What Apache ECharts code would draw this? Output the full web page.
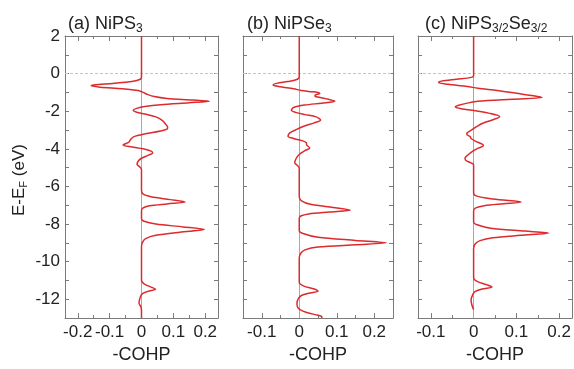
<!DOCTYPE html>
<html>
<head>
<meta charset="utf-8">
<script src="https://cdn.jsdelivr.net/npm/echarts@6/dist/echarts.min.js"></script>
<style>
html, body { margin: 0; padding: 0; background: #fff; }
#chart { width: 574px; height: 369px; }
</style>
</head>
<body>
<div id="chart"></div>
<script>
// energies (eV, relative to E_F) and -COHP values
const energyA = [2.0, -0.15, -0.3, -0.42, -0.52, -0.6, -0.65, -0.72, -0.8, -0.9, -1.0, -1.1, -1.22, -1.32, -1.4, -1.47, -1.55, -1.65, -1.75, -1.85, -1.95, -2.05, -2.15, -2.3, -2.5, -2.7, -2.85, -2.95, -3.05, -3.2, -3.35, -3.5, -3.65, -3.8, -3.9, -4.0, -4.12, -4.22, -4.35, -4.5, -4.65, -4.82, -4.95, -5.1, -6.2, -6.4, -6.55, -6.7, -6.83, -6.93, -7.03, -7.15, -7.3, -7.7, -7.85, -8.0, -8.15, -8.29, -8.43, -8.6, -8.77, -8.95, -9.2, -11.0, -11.2, -11.35, -11.47, -11.58, -11.7, -11.85, -12.2, -12.4, -12.6, -13.0];
const cohpA = [0, 0, -0.004, -0.03, -0.09, -0.15, -0.158, -0.13, -0.06, -0.01, 0.005, 0.018, 0.04, 0.08, 0.16, 0.213, 0.15, 0.06, 0.01, -0.015, -0.026, -0.015, 0.01, 0.045, 0.066, 0.076, 0.082, 0.08, 0.06, 0.012, -0.024, -0.034, -0.04, -0.058, -0.03, 0.005, 0.03, 0.035, 0.02, 0, -0.01, -0.014, -0.006, 0, 0, 0.004, 0.03, 0.09, 0.137, 0.08, 0.025, 0.004, 0, 0, 0.008, 0.045, 0.13, 0.197, 0.12, 0.045, 0.013, 0.004, 0, 0, 0.01, 0.03, 0.044, 0.02, 0.003, -0.003, -0.008, -0.002, 0, 0];

const energyB = [2.0, -0.15, -0.3, -0.42, -0.52, -0.61, -0.7, -0.8, -0.9, -0.95, -1.0, -1.06, -1.15, -1.22, -1.33, -1.47, -1.57, -1.67, -1.8, -1.95, -2.06, -2.18, -2.3, -2.47, -2.62, -2.8, -2.95, -3.15, -3.33, -3.45, -3.55, -3.67, -3.8, -3.95, -4.1, -4.3, -4.5, -4.74, -4.9, -5.05, -6.55, -6.75, -6.95, -7.12, -7.26, -7.36, -7.46, -7.57, -7.7, -8.35, -8.5, -8.7, -8.87, -9.0, -9.1, -9.22, -9.37, -9.55, -9.8, -11.1, -11.3, -11.45, -11.57, -11.68, -11.8, -11.95, -12.2, -12.4, -12.55, -12.7, -12.85, -12.92, -13.0];
const cohpB = [0, 0, -0.005, -0.03, -0.06, -0.07, -0.05, -0.015, 0.005, 0.025, 0.05, 0.055, 0.042, 0.043, 0.07, 0.095, 0.06, 0.015, -0.015, -0.021, -0.01, 0.015, 0.045, 0.057, 0.04, 0.012, -0.005, -0.025, -0.03, -0.015, 0.005, 0.019, 0.02, 0.028, 0.015, 0, -0.008, -0.012, -0.004, 0, 0, 0.005, 0.03, 0.09, 0.136, 0.08, 0.025, 0.004, 0, 0, 0.01, 0.05, 0.15, 0.232, 0.15, 0.05, 0.015, 0.004, 0, 0, 0.012, 0.04, 0.05, 0.025, 0.006, -0.002, -0.006, -0.005, 0.002, 0.02, 0.05, 0.06, 0.06];

const energyC = [2.0, -0.1, -0.2, -0.3, -0.4, -0.47, -0.57, -0.68, -0.78, -0.9, -1.05, -1.18, -1.27, -1.36, -1.47, -1.57, -1.68, -1.78, -1.88, -1.98, -2.1, -2.29, -2.45, -2.65, -2.85, -3.0, -3.15, -3.22, -3.35, -3.45, -3.6, -3.75, -3.84, -3.95, -4.1, -4.3, -4.5, -4.62, -4.75, -4.85, -6.35, -6.5, -6.65, -6.76, -6.83, -6.92, -7.02, -7.14, -7.3, -7.9, -8.05, -8.22, -8.37, -8.48, -8.6, -8.73, -8.88, -9.05, -9.3, -10.85, -11.05, -11.22, -11.35, -11.45, -11.58, -11.75, -12.05, -12.3, -12.55];
const cohpC = [0, 0, -0.005, -0.04, -0.075, -0.082, -0.06, -0.015, 0.01, 0.055, 0.1, 0.14, 0.16, 0.09, 0.01, -0.015, -0.035, -0.043, -0.025, 0.005, 0.035, 0.061, 0.045, 0.02, 0.005, -0.005, -0.015, -0.016, -0.008, -0.006, 0.005, 0.02, 0.023, 0.012, 0, -0.012, -0.02, -0.018, -0.006, 0, 0, 0.006, 0.04, 0.09, 0.111, 0.07, 0.025, 0.005, 0, 0, 0.01, 0.04, 0.12, 0.176, 0.11, 0.045, 0.015, 0.004, 0, 0, 0.008, 0.03, 0.043, 0.02, 0.004, -0.002, -0.006, -0.004, 0];

// axis ticks
const xMajorA = [-0.2, -0.1, 0, 0.1, 0.2];
const xMinorA = [-0.15, -0.05, 0.05, 0.15];
const xMajorBC = [-0.1, 0, 0.1, 0.2];
const xMinorBC = [-0.05, 0.05, 0.15];
const titles = ['{n|(a) NiPS}{s|3}', '{n|(b) NiPSe}{s|3}', '{n|(c) NiPS}{s|3/2}{n|Se}{s|3/2}'];

const FONT = '"Liberation Sans", Arial, sans-serif';
const FRAME = '#7a7a7a';
const RICH = {
	n: { fontSize: 18, fontFamily: FONT, fontWeight: 'normal', color: '#222', lineHeight: 22 },
	s: { fontSize: 12, fontFamily: FONT, fontWeight: 'normal', color: '#222', lineHeight: 12, padding: [10, 0, 0, 0] }
};
const RICH_Y = {
	n: { fontSize: 17, fontFamily: FONT, color: '#222', lineHeight: 20 },
	s: { fontSize: 11, fontFamily: FONT, color: '#222', lineHeight: 11, padding: [9, 0, 0, 0] }
};

const panels = [
	{ left: 65, width: 153, min: -0.24, max: 0.24, major: xMajorA, minor: xMinorA, e: energyA, c: cohpA, tx: 63 },
	{ left: 243, width: 150, min: -0.15, max: 0.25, major: xMajorBC, minor: xMinorBC, e: energyB, c: cohpB, tx: 242 },
	{ left: 418, width: 154, min: -0.13, max: 0.23, major: xMajorBC, minor: xMinorBC, e: energyC, c: cohpC, tx: 420 }
];

let fmtX = v => v === 0 ? '0' : String(Math.round(v * 10) / 10);

let grid = [], xAxis = [], yAxis = [], series = [], title = [];

panels.forEach((p, i) => {
	grid.push({ left: p.left, width: p.width, top: 36, height: 291 });
	title.push({ text: titles[i], left: p.tx, top: 8, textStyle: { fontWeight: 'normal', rich: RICH } });

	let base = {
		gridIndex: i, type: 'value', min: p.min, max: p.max,
		splitLine: { show: false },
		axisLine: { onZero: false, lineStyle: { color: FRAME, width: 1 } }
	};
	xAxis.push(Object.assign({}, base, {
		position: 'bottom',
		axisTick: { inside: true, length: 5, customValues: p.major, lineStyle: { color: FRAME } },
		axisLabel: { customValues: p.major, formatter: fmtX, fontSize: 17, fontFamily: FONT, color: '#222', margin: 6 },
		name: '-COHP', nameLocation: 'middle', nameGap: 27,
		nameTextStyle: { fontSize: 18, fontFamily: FONT, color: '#222' }
	}));
	xAxis.push(Object.assign({}, base, {
		position: 'top',
		axisTick: { inside: true, length: 5, customValues: p.major, lineStyle: { color: FRAME } },
		axisLabel: { show: false }
	}));
	xAxis.push(Object.assign({}, base, {
		position: 'bottom', axisLine: { show: false, onZero: false },
		axisTick: { inside: true, length: 3, customValues: p.minor, lineStyle: { color: FRAME } },
		axisLabel: { show: false }
	}));
	xAxis.push(Object.assign({}, base, {
		position: 'top', axisLine: { show: false, onZero: false },
		axisTick: { inside: true, length: 3, customValues: p.minor, lineStyle: { color: FRAME } },
		axisLabel: { show: false }
	}));

	let ybase = {
		gridIndex: i, type: 'value', min: -13, max: 2, interval: 1,
		splitLine: { show: false },
		axisLine: { onZero: false, lineStyle: { color: FRAME, width: 1 } },
		axisTick: { inside: true, length: 4, lineStyle: { color: FRAME } }
	};
	let left = Object.assign({}, ybase, {
		position: 'left',
		axisLabel: {
			show: i === 0, fontSize: 17, fontFamily: FONT, color: '#222', margin: 5,
			formatter: v => v % 2 === 0 ? String(v) : ''
		}
	});
	if (i === 0) {
		Object.assign(left, {
			name: '{n|E-E}{s|F}{n| (eV)}', nameLocation: 'middle', nameGap: 36, nameRotate: 90,
			nameTextStyle: { rich: RICH_Y, padding: [0, 6, 0, 0] }
		});
	}
	yAxis.push(left);
	yAxis.push(Object.assign({}, ybase, { position: 'right', axisLabel: { show: false } }));

	series.push({
		type: 'line',
		xAxisIndex: i * 4, yAxisIndex: i * 2,
		data: p.e.map((e, k) => [p.c[k], e]),
		showSymbol: false, smooth: 0.3,
		lineStyle: { color: '#dc2a2d', width: 1.5 },
		z: 3,
		markLine: {
			silent: true, symbol: ['none', 'none'], label: { show: false }, z: 1,
			animation: false,
			data: [
				{ xAxis: 0, lineStyle: { color: '#a8a8a8', type: 'solid', width: 1 } },
				{ yAxis: 0, lineStyle: { color: '#c4c4c4', type: [3, 2], width: 1 } }
			]
		}
	});
});

let chart = echarts.init(document.getElementById('chart'));
chart.setOption({
	animation: false,
	backgroundColor: '#fff',
	title, grid, xAxis, yAxis, series
});
</script>
</body>
</html>
